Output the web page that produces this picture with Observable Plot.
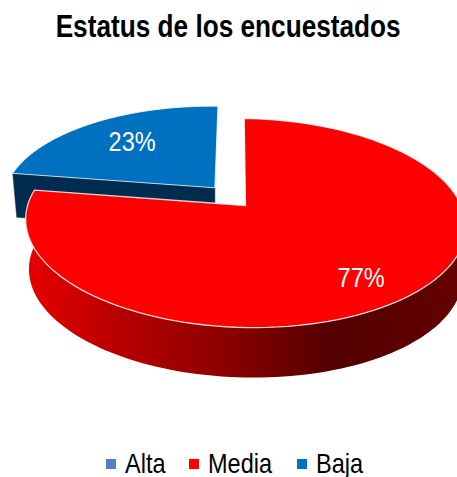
<!DOCTYPE html>
<html><head><meta charset="utf-8">
<script src="https://cdn.jsdelivr.net/npm/d3@7"></script>
<script src="https://cdn.jsdelivr.net/npm/@observablehq/plot@0.6"></script>
<style>
html,body{margin:0;padding:0;background:#fff;overflow:hidden;width:457px;height:477px}
body{font-family:"Liberation Sans",Arial,sans-serif;color:#000}
#title{height:58px;line-height:54px;text-align:center;font-weight:bold;font-size:31px;white-space:nowrap}
#title span{display:inline-block;transform:scaleX(0.845);transform-origin:center;margin:0 -40px}
#legend{height:37px;display:flex;align-items:center;font-size:28px;padding:10px 0 0 106px;box-sizing:border-box;white-space:nowrap}
#legend .k{display:inline-block;width:10px;height:10px;margin:0 9px 0 0;flex:none}
#legend .i{display:flex;align-items:center;flex:none}
#legend .t{display:inline-block;transform:scaleX(0.84);transform-origin:left center}
svg{display:block;overflow:hidden}
</style></head>
<body>
<div id="title"><span>Estatus de los encuestados</span></div>
<div id="chart"></div>
<div id="legend"></div>
<script>
const categories = ["Alta", "Media", "Baja"];
const values = [0, 77, 23];
const valueLabels = ["", "77%", "23%"];
const colors = ["#4F81BD", "#FF0000", "#0070C0"];
const wallNavy = "#002C4F";

// Tilted-disc projection (perspective) from pie space to the SVG's page coordinates
const top0 = 58, svgH = 382, W = 457;
const cx = 245, cy = 205, R = 217, K = 101.6, C = 0.1675, SK = 1.5, TILT = -3;
const project = (u, v) => {
  const w = 1 + C * v;
  return {x: cx + (R * u - SK * v) / w, y: cy - (K * v + TILT * u) / w};
};
const total = d3.sum(values);
const rad = d => d * Math.PI / 180;
let acc = 0;
const slices = categories.map((c, i) => {
  const a0 = acc / total * 360; acc += values[i];
  return {c, i, a0, a1: acc / total * 360, value: values[i]};
}).filter(s => s.value > 0);
const ptsArc = (a0, a1, off) => d3.range(0, 121).map(k => {
  const d = a0 + (a1 - a0) * k / 120;
  return project(off.u + off.r * Math.sin(rad(d)), off.v + off.r * Math.cos(rad(d)));
});
const down = (p, d) => ({x: cx + (p.x - cx) * 0.985, y: p.y + d});

const red = slices.find(s => s.c === "Media");
const blue = slices.find(s => s.c === "Baja");
const redOff = {u: 0, v: 0, r: 1};
const blueOff = {u: -0.144, v: 0.175, r: 0.988};
const apex = off => project(off.u, off.v);

const face = (s, off) => {
  const arc = ptsArc(s.a0, s.a1, off), a = apex(off);
  return [a, ...arc, a];
};
const redFace = face(red, redOff);
const blueFace = face(blue, blueOff);

// Walls
const redArc = ptsArc(70, red.a1, redOff);
const redWall = [...redArc, ...redArc.slice().reverse().map(p => down(p, 50))];
const bApex = apex(blueOff), bLeft = ptsArc(blue.a0, blue.a0, blueOff)[0];
const blueWall = [bApex, bLeft, {x: bLeft.x + 4, y: bLeft.y + 44}, {x: bApex.x, y: bApex.y + 44}, bApex];

// Labels
const labelPos = [
  {...project(0.785 * Math.sin(rad(143)), 0.785 * Math.cos(rad(143))), t: valueLabels[1]},
  {...project(blueOff.u + 0.66 * Math.sin(rad(319)), blueOff.v + 0.66 * Math.cos(rad(319))), t: valueLabels[2]}
];

const defs = () => {
  const g = d3.create("svg:defs");
  const lg = g.append("linearGradient").attr("id", "wallGrad").attr("x1", 0).attr("x2", 1).attr("y1", 0).attr("y2", 0);
  [[0, "#E60000"], [0.19, "#BC0000"], [0.47, "#880000"], [0.70, "#520000"], [1, "#660000"]]
    .forEach(([o, c]) => lg.append("stop").attr("offset", o).attr("stop-color", c));
  return g.node();
};

const xy = {x: "x", y: "y", curve: "linear"};
const plot = Plot.plot({
  width: W, height: svgH, margin: 0,
  x: {domain: [0, W], range: [0, W], axis: null},
  y: {domain: [top0, top0 + svgH], range: [0, svgH], axis: null},
  style: {background: "transparent", overflow: "hidden"},
  marks: [
    defs,
    Plot.line(blueWall, {...xy, fill: wallNavy, stroke: wallNavy, strokeWidth: 0.5}),
    Plot.line(blueFace, {...xy, fill: colors[2], stroke: "#fff", strokeWidth: 1, strokeOpacity: 0.75}),
    Plot.line(redWall, {...xy, fill: "url(#wallGrad)", stroke: "none"}),
    Plot.line(redFace, {...xy, fill: colors[1], stroke: "#fff", strokeWidth: 1.3, strokeOpacity: 0.8}),
    Plot.text(labelPos, {x: "x", y: "y", text: "t", fill: "#fff", fontSize: 27, textAnchor: "middle", lineAnchor: "middle",
      fontFamily: '"Liberation Sans",Arial,sans-serif'})
  ]
});
document.getElementById("chart").appendChild(plot);
// Narrow the label glyphs the way the reference's condensed face looks
d3.select(plot).selectAll("text").attr("transform", function () {
  return (this.getAttribute("transform") || "") + " scale(0.87,1)";
});

const lg = d3.select("#legend");
const itemWidths = [83, 108, 90];
categories.forEach((c, i) => {
  const it = lg.append("span").attr("class", "i").style("width", itemWidths[i] + "px");
  it.append("span").attr("class", "k").style("background", colors[i]);
  it.append("span").attr("class", "t").text(c);
});
</script>
</body></html>
